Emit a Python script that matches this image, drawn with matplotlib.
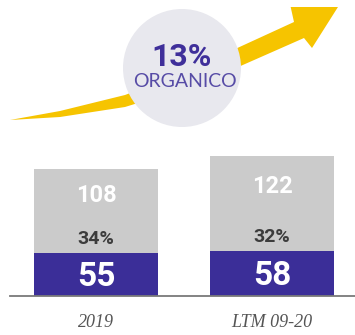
import numpy as np
import matplotlib
matplotlib.use("Agg")
import matplotlib.pyplot as plt
from matplotlib.patches import Polygon, Circle

# stacked bars: organic part at the bottom, rest on top
periods = ["2019", "LTM 09-20"]
base = [55, 58]
rest = [108, 122]
share = ["34%", "32%"]
growth = "13%"
growth_label = "ORGANICO"

purple = "#3b2e98"
grey = "#cbcbcb"
yellow = "#f6c400"

W, H = 355, 335
fig = plt.figure(figsize=(W / 100, H / 100), dpi=100)
fig.patch.set_facecolor("white")

# bars
ax = fig.add_axes([10 / W, 39 / H, 345 / W, 200 / H])
x = np.arange(len(periods))
width = 124 / 176
ax.bar(x, base, width=width, color=purple, zorder=2)
ax.bar(x, rest, width=width, bottom=base, color=grey, zorder=2)
ax.set_xlim(-86 / 176, 259 / 176)
ax.set_ylim(0, 200 / 0.78)
for s in ["top", "right", "left"]:
    ax.spines[s].set_visible(False)
ax.spines["bottom"].set_color("#7a7a7a")
ax.spines["bottom"].set_linewidth(1.3)
ax.set_yticks([])
ax.set_xticks(x)
ax.set_xticklabels(periods, fontfamily="Liberation Serif", fontstyle="italic",
                   fontsize=13, color="#555555")
ax.tick_params(axis="x", length=0, pad=13)

for i in range(len(periods)):
    ax.text(x[i], base[i] / 2 - 3, str(base[i]), ha="center", va="center",
            fontfamily="Roboto", fontweight="bold", fontsize=24, color="white", zorder=3)
    ax.annotate(share[i], (x[i], base[i]), xytext=(0, 10), textcoords="offset points",
                ha="center", va="center", fontfamily="Roboto", fontweight="bold",
                fontsize=14, color="#3c3c3c", zorder=3)
    ax.text(x[i], base[i] + rest[i] * 0.68, str(rest[i]), ha="center", va="center",
            fontfamily="Roboto", fontweight="bold", fontsize=17, color="white", zorder=3)

# growth arrow with circle badge, drawn in pixel units
top = fig.add_axes([0, 0, 1, (H - 7) / H])
top.set_xlim(0, W)
top.set_ylim(H, 7)
top.axis("off")
top.patch.set_alpha(0)

arrow = [(10, 120), (60, 111), (125, 95), (180, 74), (233, 50), (294, 22),
         (290, 4), (350, -12), (312, 48), (304, 38), (236, 68), (180, 90),
         (125, 107), (60, 117)]
top.add_patch(Polygon(arrow, closed=True, facecolor=yellow, edgecolor="none", zorder=1))
top.add_patch(Circle((182, 68), 59, facecolor="#e8e8ee", edgecolor="none", zorder=2))
top.text(182, 57, growth, ha="center", va="center", fontfamily="Roboto",
         fontweight="bold", fontsize=23, color="#3f2f9a", zorder=3)
top.text(185, 82, growth_label, ha="center", va="center", fontfamily="Lato",
         fontweight="normal", fontsize=14, color="#574ca6", zorder=3)

fig.savefig("out.png", dpi=100, facecolor="white")
